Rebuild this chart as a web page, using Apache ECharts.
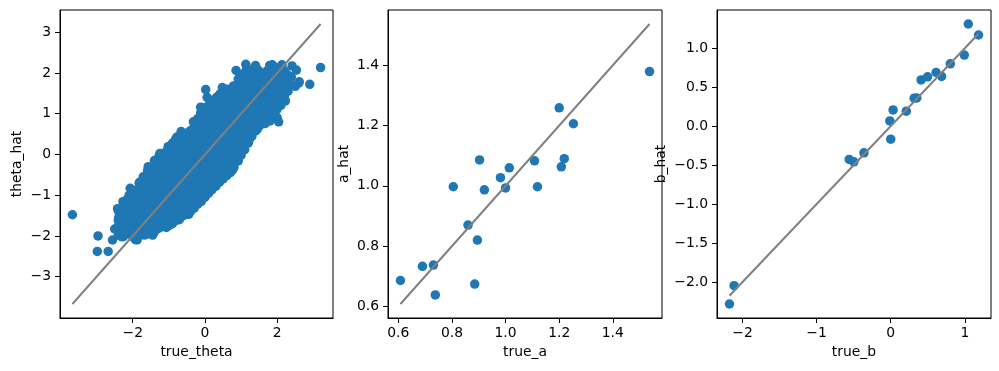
<!DOCTYPE html>
<html><head><meta charset="utf-8">
<script src="https://cdn.jsdelivr.net/npm/echarts@6/dist/echarts.min.js"></script>
<style>html,body{margin:0;padding:0;background:#fff}#c{width:999px;height:371px}</style>
</head><body><div id="c"></div>
<script>
// ---- Panel 1: true_theta vs theta_hat (dense cloud, read approximately) ----
const thetaPoints = [
 [-3.67,-1.48],[-2.96,-2.0],[-2.98,-2.38],[-2.68,-2.38],[-2.56,-2.1],[-2.5,-1.83],[-2.4,-1.62],[-2.26,-2.02],
 [-2.42,-1.33],[-2.27,-1.16],[-2.07,-0.83],[-1.93,-2.09],[-1.88,-2.1],[-1.68,-1.98],[-1.45,-1.98],[-1.34,-1.79],
 [-1.07,-1.79],[-0.71,-1.6],[-0.45,-1.47],[-0.25,-1.2],[0.18,-0.87],[0.42,-0.63],[0.6,-0.5],[0.76,-0.38],
 [0.92,-0.16],[1.2,0.35],[1.45,0.62],[1.67,0.76],[2.04,0.8],[2.01,1.16],[2.22,1.31],[2.5,1.67],[2.61,1.78],
 [2.9,1.72],[3.2,2.13],[2.41,2.17],[2.53,2.07],[2.13,2.2],[1.86,2.2],[1.4,2.18],[1.13,2.21],[0.86,2.06],
 [0.83,1.67],[0.48,1.64],[0.02,1.59],[0.21,1.3],[-0.12,1.16],[-0.2,0.88],[-0.46,0.51],[-0.66,0.56],
 [-0.77,0.43],[-1.02,0.19],[-1.25,0.02],[-1.34,-0.14],[-1.57,-0.3],[-1.71,-0.55],[-1.82,-0.71],[-1.97,-0.99],
 [-2.17,-1.12],[2.59,1.75],[2.22,1.32],[1.22,0.35],
 [-2.31,-2.02],[-2.28,-1.84],[-2.33,-1.65],[-2.3,-1.45],[-2.27,-1.27],
 [-2.1,-1.95],[-2.12,-1.75],[-2.08,-1.55],[-2.11,-1.35],[-2.09,-1.15],[-2.1,-1.0],
 [-1.9,-2.05],[-1.92,-1.86],[-1.88,-1.66],[-1.91,-1.46],[-1.89,-1.26],[-1.9,-1.06],[-1.92,-0.88],
 [-1.7,-1.95],[-1.72,-1.76],[-1.69,-1.56],[-1.71,-1.36],[-1.68,-1.16],[-1.7,-0.96],[-1.72,-0.76],[-1.69,-0.6],
 [-1.5,-1.92],[-1.52,-1.72],[-1.49,-1.52],[-1.51,-1.32],[-1.48,-1.12],[-1.5,-0.92],[-1.52,-0.72],[-1.49,-0.52],[-1.5,-0.36],
 [-1.3,-1.82],[-1.32,-1.62],[-1.29,-1.42],[-1.31,-1.22],[-1.28,-1.02],[-1.3,-0.82],[-1.32,-0.62],[-1.29,-0.42],[-1.31,-0.22],[-1.28,-0.06],
 [-1.1,-1.72],[-1.12,-1.52],[-1.09,-1.32],[-1.11,-1.12],[-1.08,-0.92],[-1.1,-0.72],[-1.12,-0.52],[-1.09,-0.32],[-1.11,-0.12],[-1.08,0.06],
 [-0.9,-1.7],[-0.92,-1.5],[-0.89,-1.3],[-0.91,-1.1],[-0.88,-0.9],[-0.9,-0.7],[-0.92,-0.5],[-0.89,-0.3],[-0.91,-0.1],[-0.88,0.1],[-0.9,0.28],
 [-0.7,-1.52],[-0.72,-1.32],[-0.69,-1.12],[-0.71,-0.92],[-0.68,-0.72],[-0.7,-0.52],[-0.72,-0.32],[-0.69,-0.12],[-0.71,0.08],[-0.68,0.28],[-0.7,0.45],
 [-0.5,-1.45],[-0.52,-1.25],[-0.49,-1.05],[-0.51,-0.85],[-0.48,-0.65],[-0.5,-0.45],[-0.52,-0.25],[-0.49,-0.05],[-0.51,0.15],[-0.48,0.35],[-0.5,0.52],
 [-0.3,-1.32],[-0.32,-1.12],[-0.29,-0.92],[-0.31,-0.72],[-0.28,-0.52],[-0.3,-0.32],[-0.32,-0.12],[-0.29,0.08],[-0.31,0.28],[-0.28,0.48],[-0.3,0.68],[-0.32,0.8],
 [-0.1,-1.15],[-0.12,-0.95],[-0.09,-0.75],[-0.11,-0.55],[-0.08,-0.35],[-0.1,-0.15],[-0.12,0.05],[-0.09,0.25],[-0.11,0.45],[-0.08,0.65],[-0.1,0.85],[-0.12,1.02],
 [0.1,-0.95],[0.12,-0.75],[0.09,-0.55],[0.11,-0.35],[0.08,-0.15],[0.1,0.05],[0.12,0.25],[0.09,0.45],[0.11,0.65],[0.08,0.85],[0.1,1.05],[0.12,1.22],[0.06,1.4],
 [0.3,-0.78],[0.32,-0.58],[0.29,-0.38],[0.31,-0.18],[0.28,0.02],[0.3,0.22],[0.32,0.42],[0.29,0.62],[0.31,0.82],[0.28,1.02],[0.3,1.22],[0.32,1.4],
 [0.5,-0.6],[0.52,-0.4],[0.49,-0.2],[0.51,0.0],[0.48,0.2],[0.5,0.4],[0.52,0.6],[0.49,0.8],[0.51,1.0],[0.48,1.2],[0.5,1.4],[0.52,1.55],
 [0.7,-0.45],[0.72,-0.25],[0.69,-0.05],[0.71,0.15],[0.68,0.35],[0.7,0.55],[0.72,0.75],[0.69,0.95],[0.71,1.15],[0.68,1.35],[0.7,1.55],
 [0.9,-0.12],[0.92,0.08],[0.89,0.28],[0.91,0.48],[0.88,0.68],[0.9,0.88],[0.92,1.08],[0.89,1.28],[0.91,1.48],[0.88,1.68],[0.92,1.85],
 [1.1,0.12],[1.12,0.32],[1.09,0.52],[1.11,0.72],[1.08,0.92],[1.1,1.12],[1.12,1.32],[1.09,1.52],[1.11,1.72],[1.08,1.92],[1.13,2.05],
 [1.3,0.45],[1.32,0.65],[1.29,0.85],[1.31,1.05],[1.28,1.25],[1.3,1.45],[1.32,1.65],[1.29,1.85],[1.31,2.05],
 [1.5,0.7],[1.52,0.9],[1.49,1.1],[1.51,1.3],[1.48,1.5],[1.5,1.7],[1.52,1.9],[1.49,2.05],
 [1.7,0.85],[1.72,1.05],[1.69,1.25],[1.71,1.45],[1.68,1.65],[1.7,1.85],[1.72,2.05],
 [1.9,0.95],[1.92,1.15],[1.89,1.35],[1.91,1.55],[1.88,1.75],[1.9,1.95],[1.92,2.15],
 [2.1,1.2],[2.12,1.4],[2.09,1.6],[2.11,1.8],[2.08,2.0],
 [2.3,1.55],[2.32,1.75],[2.29,1.95],
 [-2.4,-1.98],[-2.41,-1.78],[-2.39,-1.55],[-2.4,-1.38],
 [-2.2,-1.95],[-2.21,-1.75],[-2.19,-1.55],[-2.2,-1.35],[-2.21,-1.15],
 [-2.0,-2.02],[-2.01,-1.85],[-1.99,-1.65],[-2.0,-1.45],[-2.01,-1.25],[-1.99,-1.05],[-2.0,-0.9],
 [-1.8,-1.98],[-1.81,-1.8],[-1.79,-1.6],[-1.8,-1.4],[-1.81,-1.2],[-1.79,-1.0],[-1.8,-0.82],[-1.81,-0.68],
 [-1.6,-1.95],[-1.61,-1.75],[-1.59,-1.55],[-1.6,-1.35],[-1.61,-1.15],[-1.59,-0.95],[-1.6,-0.75],[-1.61,-0.55],[-1.59,-0.4],
 [-1.4,-1.9],[-1.41,-1.72],[-1.39,-1.52],[-1.4,-1.32],[-1.41,-1.12],[-1.39,-0.92],[-1.4,-0.72],[-1.41,-0.52],[-1.39,-0.32],[-1.4,-0.15],
 [-1.2,-1.78],[-1.21,-1.6],[-1.19,-1.4],[-1.2,-1.2],[-1.21,-1.0],[-1.19,-0.8],[-1.2,-0.6],[-1.21,-0.4],[-1.19,-0.2],[-1.2,0.0],
 [-1.0,-1.75],[-1.01,-1.58],[-0.99,-1.38],[-1.0,-1.18],[-1.01,-0.98],[-0.99,-0.78],[-1.0,-0.58],[-1.01,-0.38],[-0.99,-0.18],[-1.0,0.02],[-1.01,0.18],
 [-0.8,-1.62],[-0.81,-1.42],[-0.79,-1.22],[-0.8,-1.02],[-0.81,-0.82],[-0.79,-0.62],[-0.8,-0.42],[-0.81,-0.22],[-0.79,-0.02],[-0.8,0.18],[-0.81,0.38],
 [-0.6,-1.5],[-0.61,-1.35],[-0.59,-1.15],[-0.6,-0.95],[-0.61,-0.75],[-0.59,-0.55],[-0.6,-0.35],[-0.61,-0.15],[-0.59,0.05],[-0.6,0.25],[-0.61,0.45],
 [-0.4,-1.4],[-0.41,-1.22],[-0.39,-1.02],[-0.4,-0.82],[-0.41,-0.62],[-0.39,-0.42],[-0.4,-0.22],[-0.41,-0.02],[-0.39,0.18],[-0.4,0.38],[-0.41,0.58],
 [-0.2,-1.22],[-0.21,-1.02],[-0.19,-0.82],[-0.2,-0.62],[-0.21,-0.42],[-0.19,-0.22],[-0.2,-0.02],[-0.21,0.18],[-0.19,0.38],[-0.2,0.58],[-0.21,0.78],
 [0.0,-1.05],[-0.01,-0.85],[0.01,-0.65],[0.0,-0.45],[-0.01,-0.25],[0.01,-0.05],[0.0,0.15],[-0.01,0.35],[0.01,0.55],[0.0,0.75],[-0.01,0.95],[0.01,1.15],
 [0.2,-0.85],[0.19,-0.65],[0.21,-0.45],[0.2,-0.25],[0.19,-0.05],[0.21,0.15],[0.2,0.35],[0.19,0.55],[0.21,0.75],[0.2,0.95],[0.19,1.15],[0.21,1.32],
 [0.4,-0.68],[0.39,-0.48],[0.41,-0.28],[0.4,-0.08],[0.39,0.12],[0.41,0.32],[0.4,0.52],[0.39,0.72],[0.41,0.92],[0.4,1.12],[0.39,1.32],[0.41,1.48],
 [0.6,-0.52],[0.59,-0.32],[0.61,-0.12],[0.6,0.08],[0.59,0.28],[0.61,0.48],[0.6,0.68],[0.59,0.88],[0.61,1.08],[0.6,1.28],[0.59,1.48],[0.61,1.6],
 [0.8,-0.32],[0.79,-0.12],[0.81,0.08],[0.8,0.28],[0.79,0.48],[0.81,0.68],[0.8,0.88],[0.79,1.08],[0.81,1.28],[0.8,1.48],[0.79,1.68],
 [1.0,-0.02],[0.99,0.18],[1.01,0.38],[1.0,0.58],[0.99,0.78],[1.01,0.98],[1.0,1.18],[0.99,1.38],[1.01,1.58],[1.0,1.78],[0.99,1.95],
 [1.2,0.28],[1.19,0.48],[1.21,0.68],[1.2,0.88],[1.19,1.08],[1.21,1.28],[1.2,1.48],[1.19,1.68],[1.21,1.88],[1.2,2.08],
 [1.4,0.58],[1.39,0.78],[1.41,0.98],[1.4,1.18],[1.39,1.38],[1.41,1.58],[1.4,1.78],[1.39,1.98],[1.41,2.12],
 [1.6,0.75],[1.59,0.95],[1.61,1.15],[1.6,1.35],[1.59,1.55],[1.61,1.75],[1.6,1.95],
 [1.8,0.82],[1.79,1.0],[1.81,1.2],[1.8,1.4],[1.79,1.6],[1.81,1.8],[1.8,2.0],[1.79,2.18],
 [2.0,0.9],[1.99,1.1],[2.01,1.3],[2.0,1.5],[1.99,1.7],[2.01,1.9],[2.0,2.1],
 [2.2,1.45],[2.19,1.65],[2.21,1.85],[2.2,2.05],
 [2.4,1.7],[2.39,1.9]
];
const thetaTicksX = [-2, 0, 2];
const thetaTicksY = [-3, -2, -1, 0, 1, 2, 3];

// ---- Panel 2: true_a vs a_hat ----
const trueA = [0.608,0.690,0.731,0.738,0.805,0.860,0.885,0.895,0.903,0.921,0.981,1.000,1.014,1.108,1.119,1.200,1.208,1.219,1.253,1.537];
const aHat  = [0.686,0.733,0.737,0.638,0.997,0.870,0.674,0.820,1.086,0.987,1.027,0.993,1.060,1.083,0.997,1.259,1.063,1.090,1.206,1.379];
const aTicks = [0.6, 0.8, 1.0, 1.2, 1.4];

// ---- Panel 3: true_b vs b_hat ----
const trueB = [-2.176,-2.113,-0.560,-0.497,-0.361,-0.012,0.000,0.032,0.210,0.316,0.352,0.410,0.497,0.612,0.686,0.804,0.993,1.047,1.185];
const bHat  = [-2.282,-2.047,-0.428,-0.458,-0.342,0.066,-0.167,0.207,0.192,0.359,0.362,0.592,0.632,0.688,0.637,0.799,0.912,1.310,1.169];
const bTicksX = [-2, -1, 0, 1];
const bTicksY = [-2.0, -1.5, -1.0, -0.5, 0.0, 0.5, 1.0];

const BLUE = '#1f77b4';
const FONT = 'DejaVu Sans';
const FS = 13.9;
const DOT = 9.5;

function padRange(vals) {
  const lo = Math.min(...vals), hi = Math.max(...vals);
  const m = (hi - lo) * 0.05;
  return [lo - m, hi + m];
}
function fmt(dec) {
  return v => (dec ? Number(v).toFixed(dec) : String(Math.round(v))).replace('-', '\u2212');
}
function axis(kind, gi, name, range, ticks, dec, gap) {
  return {
    type: 'value', gridIndex: gi, min: range[0], max: range[1],
    name: name, nameLocation: 'middle', nameGap: gap,
    nameRotate: kind === 'y' ? 90 : 0,
    nameTextStyle: { fontFamily: FONT, fontSize: FS, color: '#000' },
    axisLine: { show: true, onZero: false, lineStyle: { color: '#000', width: 1 } },
    axisTick: { show: true, inside: false, length: 5, customValues: ticks, lineStyle: { color: '#000', width: 1 } },
    axisLabel: { show: true, customValues: ticks, formatter: fmt(dec), margin: kind === 'y' ? 9 : 8,
                 fontFamily: FONT, fontSize: FS, color: '#000' },
    splitLine: { show: false }
  };
}

const thX = thetaPoints.map(p => p[0]);
const thY = thetaPoints.map(p => p[1]);
const thLo = Math.min(...thX), thHi = Math.max(...thX);
const r1x = padRange(thX);
const r1y = padRange(thY.concat([thLo, thHi]));

const aLo = Math.min(...trueA), aHi = Math.max(...trueA);
const r2x = padRange(trueA);
const r2y = padRange(aHat.concat([aLo, aHi]));

const bLo = Math.min(...trueB), bHi = Math.max(...trueB);
const r3x = padRange(trueB);
const r3y = padRange(bHat.concat([bLo, bHi]));

const gridBase = { top: 10, height: 308, show: true, borderColor: '#000', borderWidth: 1, backgroundColor: 'transparent', containLabel: false };

const option = {
  animation: false,
  grid: [
    Object.assign({ left: 60, width: 273 }, gridBase),
    Object.assign({ left: 388, width: 274 }, gridBase),
    Object.assign({ left: 717, width: 274 }, gridBase)
  ],
  xAxis: [
    axis('x', 0, 'true_theta', r1x, thetaTicksX, 0, 25),
    axis('x', 1, 'true_a', r2x, aTicks, 1, 25),
    axis('x', 2, 'true_b', r3x, bTicksX, 0, 25)
  ],
  yAxis: [
    axis('y', 0, 'theta_hat', r1y, thetaTicksY, 0, 36),
    axis('y', 1, 'a_hat', r2y, aTicks, 1, 37),
    axis('y', 2, 'b_hat', r3y, bTicksY, 1, 49)
  ],
  series: [
    { type: 'scatter', xAxisIndex: 0, yAxisIndex: 0, data: thetaPoints, symbolSize: DOT, itemStyle: { color: BLUE, opacity: 1 }, z: 2 },
    { type: 'line', xAxisIndex: 0, yAxisIndex: 0, data: [[thLo, thLo], [thHi, thHi]], showSymbol: false, lineStyle: { color: '#808080', width: 2 }, z: 3 },
    { type: 'scatter', xAxisIndex: 1, yAxisIndex: 1, data: trueA.map((v, i) => [v, aHat[i]]), symbolSize: DOT, itemStyle: { color: BLUE, opacity: 1 }, z: 2 },
    { type: 'line', xAxisIndex: 1, yAxisIndex: 1, data: [[aLo, aLo], [aHi, aHi]], showSymbol: false, lineStyle: { color: '#808080', width: 2 }, z: 3 },
    { type: 'scatter', xAxisIndex: 2, yAxisIndex: 2, data: trueB.map((v, i) => [v, bHat[i]]), symbolSize: DOT, itemStyle: { color: BLUE, opacity: 1 }, z: 2 },
    { type: 'line', xAxisIndex: 2, yAxisIndex: 2, data: [[bLo, bLo], [bHi, bHi]], showSymbol: false, lineStyle: { color: '#808080', width: 2 }, z: 3 }
  ]
};
const chart = echarts.init(document.getElementById('c'), null, { renderer: 'canvas' });
chart.setOption(option);
</script>
</body></html>
